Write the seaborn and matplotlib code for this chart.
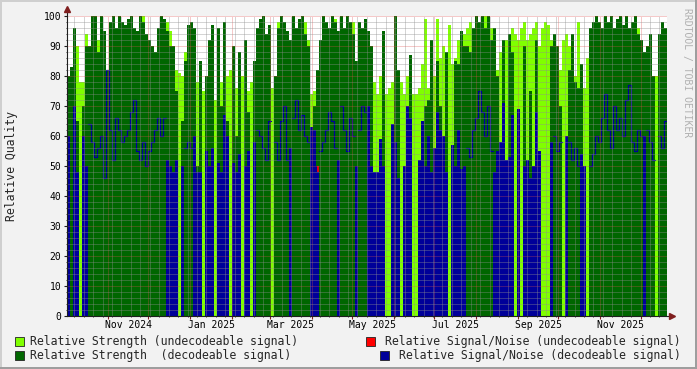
import numpy as np
import pandas as pd
import matplotlib
matplotlib.use("Agg")
import matplotlib.pyplot as plt
import matplotlib.dates as mdates
from matplotlib.ticker import MultipleLocator
from matplotlib.patches import Rectangle
import seaborn as sns
from datetime import datetime, timedelta

# ---------------- data (one value per time column) ----------------
start = datetime(2024, 10, 1, 14, 0)
span_days = 445.0
N = 200

N_ = None
strength_undec = [
    75, 78, 70, 90, 78, 78, 94, 80, 0, 0,
    92, 0, 0, 0, 0, 0, 0, 0, 0, 0,
    0, 0, 0, 0, 0, 100, 0, 0, 0, 0,
    0, 0, 0, 98, 95, 80, 82, 81, 80, 88,
    0, 0, 0, 78, 80, 75, 78, 72, 78, 72,
    80, 78, 76, 80, 82, 78, 76, 80, 80, 82,
    75, 78, 78, 80, 0, 0, 0, 0, 76, 0,
    98, 0, 0, 0, 0, 0, 0, 0, 0, 98,
    92, 74, 75, 0, 0, 0, 0, 0, 0, 99,
    0, 0, 0, 0, 0, 98, 80, 0, 0, 0,
    80, 76, 78, 74, 80, 72, 74, 76, 78, 84,
    82, 78, 74, 80, 82, 74, 74, 76, 84, 99,
    76, 90, 80, 99, 86, 90, 82, 97, 84, 86,
    92, 88, 94, 96, 98, 0, 0, 0, 0, 100,
    0, 96, 90, 82, 88, 84, 92, 94, 96, 94,
    92, 96, 98, 92, 94, 96, 98, 90, 96, 98,
    97, 92, 90, 86, 82, 92, 94, 90, 86, 80,
    98, 84, 76, 86, 0, 0, 0, 0, 0, 0,
    0, 0, 0, 0, 0, 0, 0, 0, 0, 0,
    96, 0, 80, 0, 0, 0, 80, 0, 0, 0,
]
strength_dec = [
    80, 83, 96, 65, 0, 70, 90, 90, 100, 100,
    88, 100, 95, 82, 98, 100, 96, 100, 98, 97,
    99, 100, 96, 95, 100, 98, 94, 92, 90, 88,
    96, 100, 99, 95, 90, 90, 75, 0, 65, 85,
    97, 98, 96, 50, 85, 0, 80, 92, 97, 0,
    96, 70, 98, 65, 0, 90, 60, 88, 0, 92,
    68, 0, 85, 96, 99, 100, 94, 97, 0, 80,
    96, 100, 98, 95, 92, 100, 96, 99, 100, 94,
    90, 0, 70, 82, 92, 100, 98, 96, 100, 98,
    95, 100, 96, 100, 98, 94, 85, 98, 96, 99,
    95, 90, 0, 0, 0, 95, 0, 0, 0, 100,
    82, 0, 0, 0, 87, 0, 0, 0, 0, 70,
    72, 92, 0, 85, 70, 0, 88, 0, 0, 85,
    84, 95, 90, 90, 88, 96, 100, 98, 100, 96,
    100, 92, 96, 80, 0, 92, 0, 94, 88, 0,
    0, 0, 90, 0, 75, 0, 92, 0, 0, 0,
    0, 90, 94, 90, 70, 0, 0, 82, 94, 78,
    76, 84, 0, 0, 96, 98, 100, 98, 96, 100,
    98, 100, 96, 99, 100, 97, 100, 96, 98, 100,
    94, 92, 88, 90, 94, 80, 0, 94, 98, 96,
]
snr_dec_fill = [
    60, 0, 70, 48, 0, 60, 50, 0, 0, 0,
    0, 0, 0, 0, 0, 0, 0, 0, 0, 0,
    0, 0, 0, 0, 0, 0, 0, 0, 0, 0,
    0, 0, 0, 52, 50, 48, 52, 0, 50, 0,
    0, 0, 60, 48, 48, 0, 55, 50, 56, 0,
    51, 48, 67, 60, 0, 51, 48, 54, 0, 50,
    55, 0, 58, 0, 0, 0, 0, 0, 0, 0,
    0, 0, 0, 0, 56, 0, 0, 0, 0, 0,
    0, 63, 62, 50, 0, 0, 0, 0, 0, 0,
    52, 0, 0, 0, 0, 0, 50, 0, 0, 0,
    70, 50, 48, 48, 59, 50, 0, 0, 64, 58,
    46, 0, 50, 70, 66, 0, 0, 52, 65, 50,
    60, 48, 56, 68, 62, 60, 48, 0, 57, 50,
    62, 49, 50, 0, 0, 0, 0, 0, 0, 0,
    0, 0, 48, 55, 58, 71, 52, 53, 67, 0,
    69, 0, 50, 52, 46, 50, 68, 55, 0, 0,
    0, 58, 0, 0, 0, 0, 60, 0, 0, 0,
    0, 54, 50, 0, 0, 0, 0, 0, 0, 0,
    0, 0, 0, 0, 0, 0, 0, 0, 0, 0,
    0, 0, 60, 0, 0, 0, 0, 0, 0, 0,
]
snr_dec_trace = [
    N_, N_, N_, N_, N_, N_, N_, 64, 58, 53,
    56, 60, 46, 82, 62, 52, 66, 62, 58, 60,
    62, 68, 72, 55, 52, 58, 50, 55, 58, 62,
    66, 60, 66, N_, N_, N_, N_, N_, N_, 56,
    58, 56, N_, N_, N_, N_, N_, N_, N_, N_,
    N_, N_, N_, N_, N_, N_, N_, N_, N_, N_,
    N_, N_, N_, 62, 60, 56, 52, 65, N_, 58,
    52, 65, 70, 52, N_, 66, 72, 62, 67, 60,
    58, N_, N_, N_, 55, 58, 62, 68, 65, 56,
    N_, 70, 62, 55, 66, 60, N_, 62, 70, 68,
    N_, N_, N_, N_, N_, N_, N_, N_, N_, N_,
    N_, N_, N_, N_, N_, N_, N_, N_, N_, N_,
    N_, N_, N_, N_, N_, N_, N_, N_, N_, N_,
    N_, N_, N_, 56, 53, 62, 66, 75, 68, 60,
    70, 55, N_, N_, N_, N_, N_, N_, N_, N_,
    N_, N_, N_, N_, N_, N_, N_, N_, N_, N_,
    N_, N_, 60, 55, 58, N_, N_, 58, 52, 56,
    50, N_, N_, N_, 50, 54, 60, 58, 66, 74,
    62, 56, 70, 62, 66, 60, 72, 77, 58, 55,
    62, 60, N_, 62, 58, 52, N_, 60, 56, 65,
]
snr_undec = [N_] * 83 + [49] + [N_] * 116

label_months = ["2024-11", "2025-01", "2025-03", "2025-05", "2025-07", "2025-09", "2025-11"]
label_texts = ["Nov 2024", "Jan 2025", "Mar 2025", "May 2025", "Jul 2025", "Sep 2025", "Nov 2025"]
legend_labels = [
    "Relative Strength (undecodeable signal)",
    "Relative Signal/Noise (undecodeable signal)",
    "Relative Strength  (decodeable signal)",
    "Relative Signal/Noise (decodeable signal)",
]

# ---------------- style ----------------
LIGHT = "#80FF00"
DARK = "#006600"
BLUE = "#000099"
RED = "#FF0000"
BACK = "#F2F2F2"
AXISC = "#1F1F1F"
ARROW = "#801F1F"

sns.set_style("white")
plt.rcParams["font.family"] = ["DejaVu Sans Mono", "DejaVu Sans"]

W, H = 697, 369
fig = plt.figure(figsize=(W / 100, H / 100), dpi=100)
fig.patch.set_facecolor(BACK)
ax = fig.add_axes([67 / W, 53 / H, 600 / W, 300 / H])
ax.set_facecolor("white")

t0 = mdates.date2num(start)
edges = t0 + np.linspace(0, span_days, N + 1)
centers = (edges[:-1] + edges[1:]) / 2

df = pd.DataFrame({
    "t": centers,
    "undec": np.array(strength_undec, float),
    "dec": np.array(strength_dec, float),
    "fill": np.array(snr_dec_fill, float),
    "trace": np.array(snr_dec_trace, dtype=float),
    "red": np.array(snr_undec, dtype=float),
})

common = dict(x="t", bins=N, binrange=(float(edges[0]), float(edges[-1])),
              alpha=1, linewidth=0, ax=ax, antialiased=False)
sns.histplot(data=df, weights="undec", color=LIGHT, **common)
sns.histplot(data=df, weights="dec", color=DARK, **common)
sns.histplot(data=df, weights="fill", color=BLUE, **common)
ax.step(df["t"], df["trace"], where="mid", color=BLUE, lw=0.9, zorder=2.2)
ax.plot(df["t"], df["red"], ls="none", marker="|", ms=4, mew=1.3, color=RED, zorder=2.3)

ax.set_xlim(edges[0], edges[-1])
ax.set_ylim(0, 100)
ax.set_xlabel("")
ax.set_ylabel("")

# grids (drawn over the data, dotted)
ax.yaxis.set_major_locator(MultipleLocator(10))
ax.yaxis.set_minor_locator(MultipleLocator(2))
ax.xaxis.set_major_locator(mdates.MonthLocator())
ax.xaxis.set_minor_locator(mdates.WeekdayLocator(byweekday=mdates.MO))
ax.set_axisbelow(False)
ax.grid(True, which="minor", color=(0.56, 0.56, 0.56), alpha=0.75, lw=0.72, ls=(0, (1, 1)))
ax.grid(True, which="major", color=(0.87, 0.31, 0.31), alpha=0.6, lw=0.72, ls=(0, (1, 1)))

ax.tick_params(axis="y", which="major", length=2, width=0.8, color=AXISC, pad=2,
               labelsize=7, labelcolor="black", left=True)
ax.tick_params(axis="y", which="minor", length=1, width=0.6, color=AXISC, left=True)
ax.tick_params(axis="x", which="major", length=2, width=0.8, color=ARROW, labelbottom=False, bottom=True)
ax.tick_params(axis="x", which="minor", length=1, width=0.6, color=AXISC, bottom=True)

for s in ["top", "right"]:
    ax.spines[s].set_visible(False)
for s in ["left", "bottom"]:
    ax.spines[s].set_color(AXISC)
    ax.spines[s].set_linewidth(0.8)
    ax.spines[s].set_zorder(5)

# axis arrows
ax.plot([0, 0], [1, 1.02], transform=ax.transAxes, clip_on=False, color=AXISC, lw=0.8)
ax.plot([0], [1.022], marker="^", ms=4.5, color=ARROW, transform=ax.transAxes, clip_on=False)
ax.plot([1, 1.006], [0, 0], transform=ax.transAxes, clip_on=False, color=AXISC, lw=0.8)
ax.plot([1.008], [0], marker=">", ms=4.5, color=ARROW, transform=ax.transAxes, clip_on=False)

# x labels at mid-month
for m, txt in zip(label_months, label_texts):
    p = pd.Period(m, freq="M")
    mid = p.start_time + timedelta(days=p.days_in_month / 2)
    ax.text(mdates.date2num(mid), -0.029, txt, transform=ax.get_xaxis_transform(),
            ha="center", va="center", fontsize=7, color="black")

# y label
fig.text(12 / W, 1 - 166 / H, "Relative Quality", rotation=90, ha="center", va="center", fontsize=8.3)

# watermark
fig.text(687 / W, 1 - 73 / H, "RRDTOOL / TOBI OETIKER", rotation=270, ha="center", va="center",
         fontsize=7, color="#B0B0B0")

# legend
def box(x, y, color):
    fig.patches.append(Rectangle((x / W, 1 - (y + 4.5) / H), 9 / W, 9 / H, transform=fig.transFigure,
                                 facecolor=color, edgecolor="#222222", lw=0.6))

row1, row2 = 341, 355
box(15, row1, LIGHT)
fig.text(30 / W, 1 - row1 / H, legend_labels[0], ha="left", va="center", fontsize=8.3)
box(366, row1, RED)
fig.text(681 / W, 1 - row1 / H, legend_labels[1], ha="right", va="center", fontsize=8.3)
box(15, row2, DARK)
fig.text(30 / W, 1 - row2 / H, legend_labels[2], ha="left", va="center", fontsize=8.3)
box(380, row2, BLUE)
fig.text(681 / W, 1 - row2 / H, legend_labels[3], ha="right", va="center", fontsize=8.3)

# 3D frame
fig.patches.append(Rectangle((0, 1 - 2 / H), 1, 2 / H, transform=fig.transFigure, facecolor="#CFCFCF", lw=0))
fig.patches.append(Rectangle((0, 0), 2 / W, 1, transform=fig.transFigure, facecolor="#CFCFCF", lw=0))
fig.patches.append(Rectangle((0, 0), 1, 2 / H, transform=fig.transFigure, facecolor="#9E9E9E", lw=0))
fig.patches.append(Rectangle((1 - 2 / W, 0), 2 / W, 1, transform=fig.transFigure, facecolor="#9E9E9E", lw=0))

fig.savefig("out.png", dpi=100, facecolor=fig.get_facecolor())
